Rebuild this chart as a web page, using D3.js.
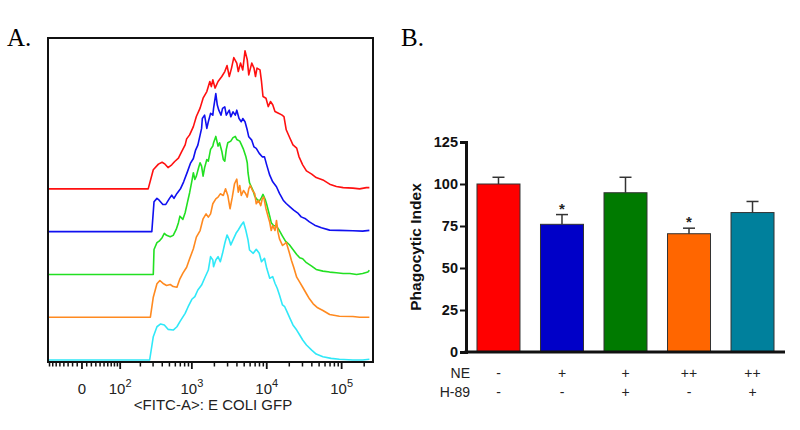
<!DOCTYPE html>
<html><head><meta charset="utf-8">
<script src="https://cdn.jsdelivr.net/npm/d3@7"></script>
<style>body{margin:0;background:#fff}svg{display:block}</style>
</head><body>
<svg id="c" width="800" height="430"></svg>
<script>
// ---------------- DATA ----------------
// Panel A: flow histograms, x = log10(FITC-A intensity), y = % of max
const redTrace = [[2.41,0],[2.48,13.8],[2.55,17.9],[2.6,19.3],[2.64,17.9],[2.68,15.4],[2.73,17.4],[2.77,19.8],[2.82,22.2],[2.86,26.6],[2.91,31.9],[2.93,36.2],[2.97,39.1],[3.02,45.1],[3.06,52.4],[3.11,58.5],[3.15,65.7],[3.2,70.5],[3.24,77.8],[3.26,74.1],[3.28,79],[3.31,73],[3.35,77.8],[3.4,81.4],[3.44,85],[3.47,89.3],[3.5,81.4],[3.53,87.5],[3.56,95.1],[3.6,91.1],[3.62,85],[3.65,91.1],[3.68,86.2],[3.71,100],[3.74,93.5],[3.76,82.6],[3.8,91.1],[3.83,87.5],[3.85,81.4],[3.87,87.5],[3.91,86.2],[3.93,77.8],[3.95,66.9],[3.99,65.7],[4.02,59.6],[4.05,63.3],[4.08,60.9],[4.11,56],[4.15,54.9],[4.2,53.6],[4.23,52.4],[4.26,42.8],[4.31,36.7],[4.35,31.9],[4.4,29.5],[4.43,23.4],[4.48,17.4],[4.53,13],[4.6,10.7],[4.66,8.2],[4.75,6.5],[4.84,3.4],[4.93,1.7],[5.02,0.9],[5.15,0.5],[5.24,0],[5.33,0.9],[5.37,0.9]];
const blueTrace = [[2.46,0],[2.49,21.6],[2.53,24.1],[2.56,22.8],[2.61,19.7],[2.65,19.7],[2.7,24.1],[2.73,26.4],[2.76,24.1],[2.8,27.7],[2.85,31.3],[2.89,36.1],[2.94,43.3],[2.98,49.4],[3.02,53],[3.05,59.1],[3.08,62.7],[3.11,69.9],[3.13,74.8],[3.14,82],[3.17,84.4],[3.2,74.8],[3.22,79.6],[3.25,85.7],[3.28,84.4],[3.29,89.3],[3.32,100],[3.34,91.7],[3.36,88],[3.39,84.4],[3.41,89.3],[3.44,90.4],[3.46,84.4],[3.5,88],[3.52,83.2],[3.55,86.8],[3.58,84.4],[3.6,88],[3.63,82],[3.66,79.6],[3.68,82],[3.71,79.6],[3.74,73.6],[3.76,68.7],[3.8,66.3],[3.83,61.4],[3.86,60.3],[3.9,56.7],[3.94,54.2],[3.97,54.2],[4.0,48.2],[4.04,40.9],[4.08,36.1],[4.13,32.5],[4.17,27.7],[4.22,22.8],[4.26,20.4],[4.31,18],[4.36,15.6],[4.42,13.2],[4.46,10.7],[4.51,9.6],[4.57,7.1],[4.64,4.7],[4.73,2.8],[4.84,1.1],[4.97,0.9],[5.15,0.6],[5.28,0.4],[5.37,0.9]];
const greenTrace = [[2.48,0],[2.49,18.1],[2.53,23],[2.56,24.1],[2.6,26.6],[2.63,29.7],[2.66,28.3],[2.71,27.3],[2.75,28.3],[2.79,32.6],[2.82,37.5],[2.84,42.2],[2.88,39.9],[2.91,44.7],[2.94,52],[2.97,59.2],[3.0,67.6],[3.02,73.7],[3.04,68.8],[3.06,71.2],[3.09,77.3],[3.11,80.9],[3.13,78.5],[3.15,71.2],[3.17,77.3],[3.2,83.3],[3.22,82.1],[3.25,90.6],[3.28,93],[3.29,95.4],[3.32,100],[3.35,93],[3.37,95.4],[3.4,89.3],[3.42,83.3],[3.44,82.1],[3.46,90.6],[3.48,95.4],[3.52,96.6],[3.55,99.1],[3.58,100],[3.6,97.8],[3.64,96.6],[3.66,94.2],[3.69,90.6],[3.72,85.7],[3.74,80.9],[3.75,73.7],[3.77,66.4],[3.82,60.4],[3.84,56.7],[3.87,54.3],[3.9,53.1],[3.93,55.6],[3.95,58],[3.98,54.3],[4.0,50.7],[4.04,42.2],[4.06,37.5],[4.09,35.5],[4.13,35],[4.16,32.6],[4.21,27.8],[4.25,24.1],[4.3,21.7],[4.35,18.1],[4.4,14.5],[4.44,12.1],[4.48,11.4],[4.53,8.5],[4.6,6],[4.66,3.6],[4.75,2.4],[4.84,1.7],[4.93,1.2],[5.02,0.7],[5.11,0.7],[5.2,0],[5.28,0.7],[5.35,1.7],[5.37,3.1]];
const orangeTrace = [[2.44,0],[2.48,14.5],[2.53,24.2],[2.57,26.6],[2.62,24.2],[2.66,23],[2.71,23.7],[2.75,22.2],[2.8,21.7],[2.84,27.8],[2.88,31.9],[2.93,36.2],[2.97,42.3],[3.02,49.6],[3.06,58],[3.11,62.8],[3.15,71.3],[3.19,74.9],[3.22,72.5],[3.25,74.9],[3.28,82.2],[3.32,85.8],[3.35,87],[3.38,89.4],[3.42,88.2],[3.45,93],[3.48,88.2],[3.51,78.6],[3.54,87],[3.57,96.7],[3.6,100],[3.62,90.6],[3.64,95.4],[3.66,88.2],[3.69,91.8],[3.72,89.4],[3.74,87],[3.76,93],[3.78,95.4],[3.81,91.8],[3.84,89.4],[3.86,82.2],[3.89,84.6],[3.92,80.9],[3.94,85.8],[3.96,87],[3.99,78.6],[4.02,72.5],[4.04,68.8],[4.06,62.8],[4.08,66.4],[4.11,62.8],[4.13,70.1],[4.15,61.6],[4.17,56.8],[4.21,52],[4.24,53.2],[4.26,54.3],[4.3,47.1],[4.33,41.1],[4.36,36.2],[4.4,29],[4.44,25.4],[4.48,21.7],[4.53,17],[4.57,13.3],[4.62,9.7],[4.68,6.8],[4.75,4.9],[4.84,2],[4.97,0.7],[5.15,0.5],[5.24,0],[5.37,0]];
const cyanTrace = [[2.43,0],[2.48,16.9],[2.53,24.1],[2.58,26.1],[2.63,25.4],[2.68,22.2],[2.75,21.7],[2.8,24.1],[2.84,27.8],[2.91,33.8],[2.95,38.6],[3.0,44],[3.04,45.9],[3.08,50.7],[3.13,54.3],[3.17,59.2],[3.22,65.2],[3.25,74.9],[3.28,72.5],[3.29,67.6],[3.32,72.5],[3.35,74.9],[3.38,71.2],[3.41,77.3],[3.44,84.6],[3.47,90.6],[3.5,87],[3.52,83.3],[3.55,87],[3.59,91.8],[3.62,94.2],[3.66,97.8],[3.69,100],[3.72,94.2],[3.75,87],[3.77,79.7],[3.82,77.3],[3.86,80.2],[3.9,77.3],[3.93,71.2],[3.97,73.7],[4.0,66.4],[4.04,59.2],[4.08,60.4],[4.11,55.6],[4.14,52],[4.17,47.1],[4.21,39.9],[4.24,38.6],[4.27,35],[4.31,30.2],[4.35,25.4],[4.4,21.7],[4.44,18.1],[4.48,14.5],[4.53,10.9],[4.6,7.2],[4.66,4.3],[4.75,2.4],[4.86,1.2],[4.97,0.5],[5.15,0],[5.28,0],[5.37,0.5]];
const traceList = [redTrace, blueTrace, greenTrace, orangeTrace, cyanTrace];
const traceColors = ["#ff1010", "#1010f0", "#22e022", "#ff8a20", "#30e8f8"];
const traceOffsets = [124, 93, 62, 31, 0];   // vertical offset of each overlay (% of max units)
const majorTicksA = [0, 100, 1000, 10000, 100000];
const majorLabelsA = [["0",""], ["10","2"], ["10","3"], ["10","4"], ["10","5"]];
const minorTicksA = [-80,-70,-60,-50,-40,-30,-20,-10,10,20,30,40,50,60,70,80,90,
  200,300,400,500,600,700,800,900,2000,3000,4000,5000,6000,7000,8000,9000,
  20000,30000,40000,50000,60000,70000,80000,90000,200000];
const axisMinA = -85, axisMaxA = 262144;
const xTitleA = "<FITC-A>: E COLI GFP";

// Panel B: phagocytic index bars
const groups = ["g1","g2","g3","g4","g5"];
const phagoMean = [100, 76, 94.8, 70.4, 83];
const phagoSEM = [4, 5.8, 9.2, 3.3, 6.6];
const significant = [false, true, false, true, false];
const neRow = ["-", "+", "+", "++", "++"];
const h89Row = ["-", "-", "+", "-", "+"];
const barColors = ["#ff0000", "#0000c8", "#007a00", "#ff6600", "#00809c"];
const yTicksB = [0, 25, 50, 75, 100, 125];

// ---------------- DRAW ----------------
const svg = d3.select("#c");
svg.append("rect").attr("width", 800).attr("height", 430).attr("fill", "#fff");
const sans = "'Liberation Sans', Arial, sans-serif";
const serif = "'Liberation Serif', 'Times New Roman', serif";

// panel letters
svg.append("text").attr("x", 7).attr("y", 46).attr("font-family", serif).attr("font-size", 25).text("A.");
svg.append("text").attr("x", 401).attr("y", 46).attr("font-family", serif).attr("font-size", 25).text("B.");

// ---- Panel A ----
const W = 68.3;
const T = v => Math.log10(W / 2) + Math.asinh(v / W) / Math.LN10;  // logicle-like display transform
const xA = d3.scaleLinear().domain([T(axisMinA), T(axisMaxA)]).range([48, 373]);
const yA = d3.scaleLinear().domain([-1.45, 233.3]).range([362, 38]);
const fx = lg => xA(T(Math.pow(10, lg)));

const gA = svg.append("g");
gA.append("clipPath").attr("id", "clipA").append("rect")
  .attr("x", 48).attr("y", 38).attr("width", 325).attr("height", 324);
const line = d3.line().x(d => d[0]).y(d => d[1]);
traceList.forEach((tr, i) => {
  const off = traceOffsets[i];
  const pts = [[xA.range()[0], yA(off)]].concat(tr.map(d => [fx(d[0]), yA(off + d[1])]));
  gA.append("path").attr("d", line(pts)).attr("fill", "none")
    .attr("stroke", traceColors[i]).attr("stroke-width", 1.6)
    .attr("stroke-linejoin", "round").attr("clip-path", "url(#clipA)");
});
gA.append("rect").attr("x", 48).attr("y", 38).attr("width", 325).attr("height", 324)
  .attr("fill", "none").attr("stroke", "#111").attr("stroke-width", 2);

// ticks (drawn from the scale)
const tickG = gA.append("g");
tickG.selectAll("line.minor").data(minorTicksA).join("line").attr("class", "minor")
  .attr("x1", d => xA(T(d))).attr("x2", d => xA(T(d))).attr("y1", 362).attr("y2", 366.5)
  .attr("stroke", "#111").attr("stroke-width", 1.5);
tickG.selectAll("line.major").data(majorTicksA).join("line").attr("class", "major")
  .attr("x1", d => xA(T(d))).attr("x2", d => xA(T(d))).attr("y1", 362).attr("y2", 369)
  .attr("stroke", "#111").attr("stroke-width", 1.8);
majorTicksA.forEach((v, i) => {
  const t = gA.append("text").attr("x", xA(T(v))).attr("y", 394)
    .attr("font-family", sans).attr("font-size", 15).attr("fill", "#222")
    .attr("text-anchor", "middle");
  t.append("tspan").text(majorLabelsA[i][0]);
  if (majorLabelsA[i][1]) t.append("tspan").attr("dy", -7).attr("font-size", 11).text(majorLabelsA[i][1]);
});
gA.append("text").attr("x", 213).attr("y", 410).attr("text-anchor", "middle")
  .attr("font-family", sans).attr("font-size", 15).attr("fill", "#222").text(xTitleA);

// ---- Panel B ----
const xB = d3.scaleBand().domain(groups).range([466, 785]).paddingInner(0.323).paddingOuter(0.173);
const yB = d3.scaleLinear().domain([0, 125]).range([352, 142]);
const gB = svg.append("g");

gB.selectAll("rect.bar").data(groups).join("rect").attr("class", "bar")
  .attr("x", d => xB(d)).attr("width", xB.bandwidth())
  .attr("y", (d, i) => yB(phagoMean[i])).attr("height", (d, i) => yB(0) - yB(phagoMean[i]))
  .attr("fill", (d, i) => barColors[i]).attr("stroke", "#333").attr("stroke-width", 1);

groups.forEach((g, i) => {
  const cx = xB(g) + xB.bandwidth() / 2;
  const yt = yB(phagoMean[i] + phagoSEM[i]);
  gB.append("line").attr("x1", cx).attr("x2", cx).attr("y1", yB(phagoMean[i])).attr("y2", yt)
    .attr("stroke", "#333").attr("stroke-width", 1.5);
  gB.append("line").attr("x1", cx - 6).attr("x2", cx + 6).attr("y1", yt).attr("y2", yt)
    .attr("stroke", "#333").attr("stroke-width", 1.5);
  if (significant[i]) {
    gB.append("text").attr("x", cx).attr("y", yt - 1).attr("text-anchor", "middle")
      .attr("font-family", sans).attr("font-weight", "bold").attr("font-size", 15).attr("fill", "#222").text("*");
  }
  gB.append("text").attr("x", cx).attr("y", 378).attr("text-anchor", "middle")
    .attr("font-family", sans).attr("font-size", 14).attr("fill", "#222").text(neRow[i]);
  gB.append("text").attr("x", cx).attr("y", 397).attr("text-anchor", "middle")
    .attr("font-family", sans).attr("font-size", 14).attr("fill", "#222").text(h89Row[i]);
});

const yAxB = gB.append("g").attr("transform", "translate(466,0)")
  .call(d3.axisLeft(yB).tickValues(yTicksB).tickSize(6).tickPadding(2));
yAxB.select(".domain").attr("stroke", "#111").attr("stroke-width", 3);
yAxB.selectAll(".tick line").attr("stroke", "#111").attr("stroke-width", 2);
yAxB.selectAll(".tick text").attr("font-family", sans).attr("font-weight", "bold")
  .attr("font-size", 14.5).attr("fill", "#111");
gB.append("line").attr("x1", 464.5).attr("x2", 785).attr("y1", yB(0)).attr("y2", yB(0))
  .attr("stroke", "#111").attr("stroke-width", 3);

gB.append("text").attr("transform", "translate(421,247) rotate(-90)").attr("text-anchor", "middle")
  .attr("font-family", sans).attr("font-weight", "bold").attr("font-size", 15.5).attr("fill", "#111")
  .text("Phagocytic Index");
gB.append("text").attr("x", 470).attr("y", 378).attr("text-anchor", "end")
  .attr("font-family", sans).attr("font-size", 14).attr("fill", "#222").text("NE");
gB.append("text").attr("x", 470).attr("y", 397).attr("text-anchor", "end")
  .attr("font-family", sans).attr("font-size", 14).attr("fill", "#222").text("H-89");
</script>
</body></html>
